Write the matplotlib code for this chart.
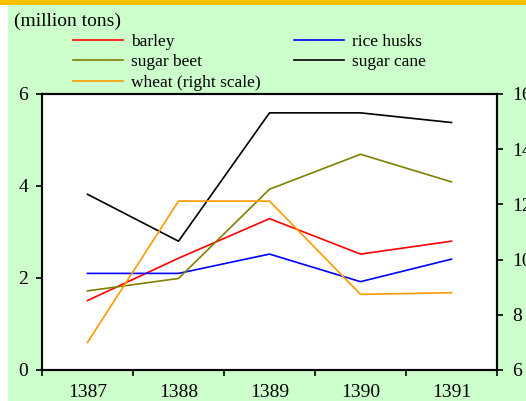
import matplotlib
matplotlib.use("Agg")
import matplotlib.pyplot as plt
from matplotlib.patches import Rectangle

years = ["1387", "1388", "1389", "1390", "1391"]
barley = [1.51, 2.43, 3.29, 2.52, 2.80]
rice_husks = [2.10, 2.10, 2.52, 1.92, 2.41]
sugar_beet = [1.72, 1.99, 3.93, 4.69, 4.09]
sugar_cane = [3.82, 2.80, 5.59, 5.59, 5.38]
wheat = [7.0, 12.12, 12.12, 8.74, 8.80]

left_ticks = [0, 2, 4, 6]
right_ticks = [6, 8, 10, 12, 14, 16]

plt.rcParams['font.family'] = ['Liberation Serif', 'DejaVu Serif']
FS = 14
LFS = 12.5

fig = plt.figure(figsize=(5.26, 4.01), dpi=100, facecolor='#CCFFCC')
fig.patches.append(Rectangle((0, 0), 8 / 526, 1, transform=fig.transFigure,
                             facecolor='white', edgecolor='none', zorder=0))
fig.patches.append(Rectangle((0, 1 - 5 / 401), 1, 5 / 401, transform=fig.transFigure,
                             facecolor='#FFC000', edgecolor='none', zorder=1))

ax = fig.add_axes([42 / 526, 31 / 401, 455 / 526, 276 / 401])
ax2 = ax.twinx()

x = list(range(len(years)))
lw = 1.2
h1, = ax.plot(x, barley, color='#FF0000', lw=lw, label='barley')
h2, = ax.plot(x, rice_husks, color='#0000FF', lw=lw, label='rice husks')
h3, = ax.plot(x, sugar_beet, color='#808000', lw=lw, label='sugar beet')
h4, = ax.plot(x, sugar_cane, color='#000000', lw=lw, label='sugar cane')
h5, = ax2.plot(x, wheat, color='#FF9900', lw=lw, label='wheat (right scale)')

ax.set_xlim(-0.5, len(years) - 0.5)
ax.set_ylim(0, 6)
ax2.set_ylim(6, 16)
ax.set_yticks(left_ticks)
ax2.set_yticks(right_ticks)
ax.set_xticks([i - 0.5 for i in range(len(years) + 1)])
ax.set_xticklabels([])
ax.set_xticks(x, minor=True)
ax.set_xticklabels(years, minor=True, fontsize=FS)
ax.tick_params(axis='x', which='minor', length=0, pad=10)
ax.tick_params(axis='x', which='major', length=4, width=1.2, direction='out')
ax.tick_params(axis='y', length=4, width=1.2, labelsize=FS, pad=6)
ax2.tick_params(axis='y', length=4, width=1.2, labelsize=FS, pad=7)

for a in (ax, ax2):
    for s in a.spines.values():
        s.set_linewidth(1.5)
        s.set_color('black')
ax.set_facecolor('white')

fig.text(14 / 526, 1 - 13 / 401, '(million tons)', fontsize=FS, va='top', ha='left')

leg = fig.legend([h1, h3, h5, h2, h4],
                 ['barley', 'sugar beet', 'wheat (right scale)', 'rice husks', 'sugar cane'],
                 ncol=2, loc='upper left', bbox_to_anchor=(73 / 526, 1 - 33.5 / 401),
                 frameon=False, fontsize=LFS, handlelength=2.87, handletextpad=0.46,
                 columnspacing=1.93, labelspacing=0.25, borderpad=0, borderaxespad=0)

fig.savefig('out.png', dpi=100, facecolor=fig.get_facecolor())
